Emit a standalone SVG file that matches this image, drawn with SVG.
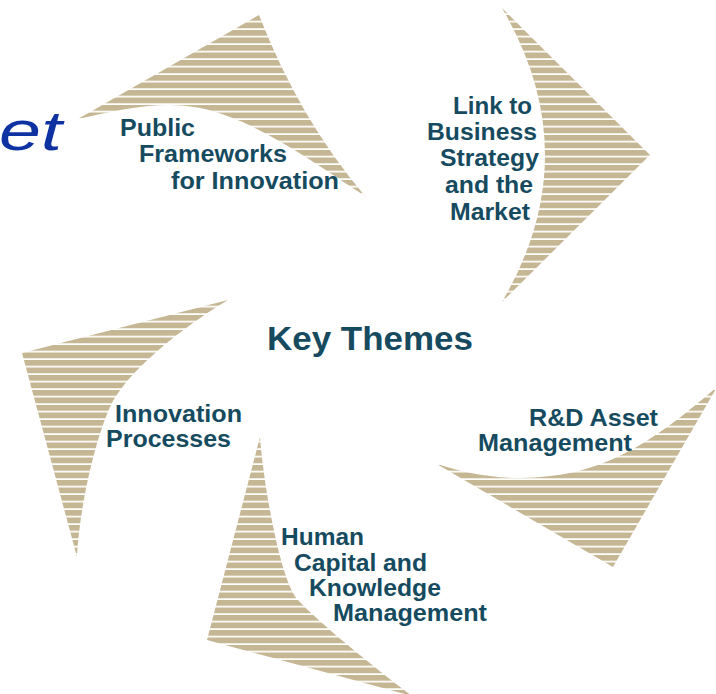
<svg xmlns="http://www.w3.org/2000/svg" width="716" height="694" viewBox="0 0 716 694">
  <defs>
    <!-- horizontal tan bands with thin white gaps -->
    <pattern id="bands" patternUnits="userSpaceOnUse" x="0" y="0" width="716" height="7.5">
      <rect x="0" y="0" width="716" height="5.8" fill="#c5b793"/>
    </pattern>
    <style>
      .arrow { fill: url(#bands); stroke: none; }
      .label { font-family: "Liberation Sans", Arial, sans-serif; font-weight: bold; font-size: 23px; fill: #164b5f; }
      .title { font-family: "Liberation Sans", Arial, sans-serif; font-weight: bold; font-size: 34px; fill: #164b5f; }
      .brand { font-family: "Liberation Sans", Arial, sans-serif; font-style: italic; font-size: 55px; fill: #0f32a3; }
    </style>
  </defs>

  <rect x="0" y="0" width="716" height="694" fill="#ffffff"/>

  <!-- partial brand word at the left edge -->
  <text class="brand" x="-1" y="150" textLength="63" lengthAdjust="spacingAndGlyphs">et</text>

  <g id="node-public-frameworks">
    <path class="arrow" d="M78,119 L259,15 Q300,120 365,196 C310,160 255,119.5 200,108 C160,99.6 118,110.2 78,119 Z"/>
    <text class="label" x="120" y="135.5" textLength="75" lengthAdjust="spacingAndGlyphs">Public</text>
    <text class="label" x="139" y="162" textLength="148" lengthAdjust="spacingAndGlyphs">Frameworks</text>
    <text class="label" x="171" y="188.5" textLength="168" lengthAdjust="spacingAndGlyphs">for Innovation</text>
  </g>

  <g id="node-business-strategy">
    <path class="arrow" d="M502,8 L650,155 L502,302 Q588,155 502,8 Z"/>
    <text class="label" x="453" y="113.5" textLength="79" lengthAdjust="spacingAndGlyphs">Link to</text>
    <text class="label" x="427" y="140" textLength="110" lengthAdjust="spacingAndGlyphs">Business</text>
    <text class="label" x="440" y="166" textLength="99" lengthAdjust="spacingAndGlyphs">Strategy</text>
    <text class="label" x="445" y="193" textLength="88" lengthAdjust="spacingAndGlyphs">and the</text>
    <text class="label" x="450" y="219.5" textLength="80" lengthAdjust="spacingAndGlyphs">Market</text>
  </g>

  <g id="node-rd-asset">
    <path class="arrow" d="M435,463 L613,567 L717,387 C650,445 600,478 520,478 C490,478 460,472 435,463 Z"/>
    <text class="label" x="529" y="425.5" textLength="129" lengthAdjust="spacingAndGlyphs">R&amp;D Asset</text>
    <text class="label" x="478" y="451" textLength="154" lengthAdjust="spacingAndGlyphs">Management</text>
  </g>

  <g id="node-human-capital">
    <path class="arrow" d="M260,437 L207,640 L412,696 C380,672 318,622 298,600 C280,582 263,480 260,437 Z"/>
    <text class="label" x="281" y="545" textLength="83" lengthAdjust="spacingAndGlyphs">Human</text>
    <text class="label" x="294" y="570.5" textLength="133" lengthAdjust="spacingAndGlyphs">Capital and</text>
    <text class="label" x="309" y="595.5" textLength="132" lengthAdjust="spacingAndGlyphs">Knowledge</text>
    <text class="label" x="333" y="620.5" textLength="154" lengthAdjust="spacingAndGlyphs">Management</text>
  </g>

  <g id="node-innovation-processes">
    <path class="arrow" d="M228,300 L22,353 L77,557 C79,510 95,440 110,407 C125,374 178,330 228,300 Z"/>
    <text class="label" x="115" y="422" textLength="127" lengthAdjust="spacingAndGlyphs">Innovation</text>
    <text class="label" x="106" y="447" textLength="125" lengthAdjust="spacingAndGlyphs">Processes</text>
  </g>

  <g id="node-key-themes">
    <text class="title" x="267" y="349.5" textLength="206" lengthAdjust="spacingAndGlyphs">Key Themes</text>
  </g>
</svg>
